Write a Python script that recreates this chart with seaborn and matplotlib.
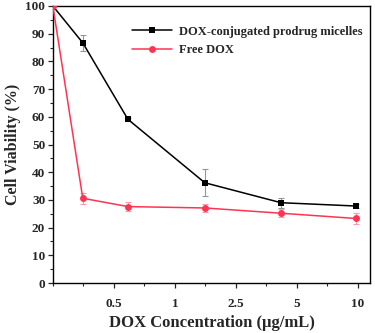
import numpy as np
import pandas as pd
import seaborn as sns
import matplotlib.pyplot as plt
from matplotlib.ticker import MultipleLocator

# x positions on the category-like axis (0 = origin, tick 1 = 0.5 ug/mL, ...)
x_pos = [0, 0.49, 1.23, 2.49, 3.74, 4.97]
tick_pos = [1, 2, 3, 4, 5]
tick_labels = ['0.5', '1', '2.5', '5', '10']

micelles = [100, 86.7, 59.1, 36.2, 29.0, 27.8]
micelles_err = [0, 3.0, 0.5, 4.8, 1.8, 0.6]
free_dox = [100, 30.6, 27.6, 27.1, 25.2, 23.3]
free_err = [0, 1.9, 1.5, 1.4, 1.5, 2.0]

df = pd.DataFrame({
    'x': x_pos * 2,
    'y': micelles + free_dox,
    'err': micelles_err + free_err,
    'group': ['DOX-conjugated prodrug micelles'] * 6 + ['Free DOX'] * 6,
})

sns.set_style('white')
plt.rcParams['font.family'] = ['Liberation Serif', 'DejaVu Serif']
plt.rcParams['font.weight'] = 'bold'

fig = plt.figure(figsize=(3.75, 3.33), dpi=100)
ax = fig.add_axes([0.141, 0.150, 0.846, 0.832])

palette = {'DOX-conjugated prodrug micelles': 'black', 'Free DOX': '#ff3352'}
err_colors = {'DOX-conjugated prodrug micelles': '#8a9a9a', 'Free DOX': '#ff99aa'}

for g, sub in df.groupby('group'):
    ax.errorbar(sub['x'], sub['y'], yerr=sub['err'], fmt='none',
                ecolor=err_colors[g], elinewidth=0.8, capsize=2, capthick=0.8, zorder=2)

sns.lineplot(data=df, x='x', y='y', hue='group', style='group',
             markers={'DOX-conjugated prodrug micelles': 's', 'Free DOX': 'o'},
             dashes=False, palette=palette, markersize=5, linewidth=1.1,
             markeredgewidth=0, ax=ax, zorder=3)

ax.set_xlim(0, 5.2)
ax.set_ylim(0, 100)
ax.set_xticks(tick_pos)
ax.set_xticklabels(tick_labels)
ax.xaxis.set_minor_locator(MultipleLocator(0.5))
ax.yaxis.set_major_locator(MultipleLocator(10))
ax.yaxis.set_minor_locator(MultipleLocator(5))
ax.tick_params(axis='both', which='major', direction='out', length=3.5, width=0.9,
               labelsize=9.5, bottom=True, left=True, pad=2)
ax.tick_params(axis='both', which='minor', direction='out', length=2, width=0.8,
               bottom=True, left=True)
ax.tick_params(axis='x', which='major', pad=7)
for lab in ax.get_xticklabels() + ax.get_yticklabels():
    lab.set_fontweight('bold')
for s in ax.spines.values():
    s.set_linewidth(1.0)
    s.set_color('black')

ax.set_xlabel('DOX Concentration (μg/mL)', fontsize=12, fontweight='bold', labelpad=4)
ax.set_ylabel('Cell Viability (%)', fontsize=11.5, fontweight='bold', labelpad=3)

leg = ax.legend(loc='upper left', bbox_to_anchor=(0.215, 0.97), frameon=False,
                fontsize=9, handlelength=3.2, handletextpad=0.5, labelspacing=0.55)
for t in leg.get_texts():
    t.set_fontweight('bold')

fig.savefig('out.png', dpi=100)
